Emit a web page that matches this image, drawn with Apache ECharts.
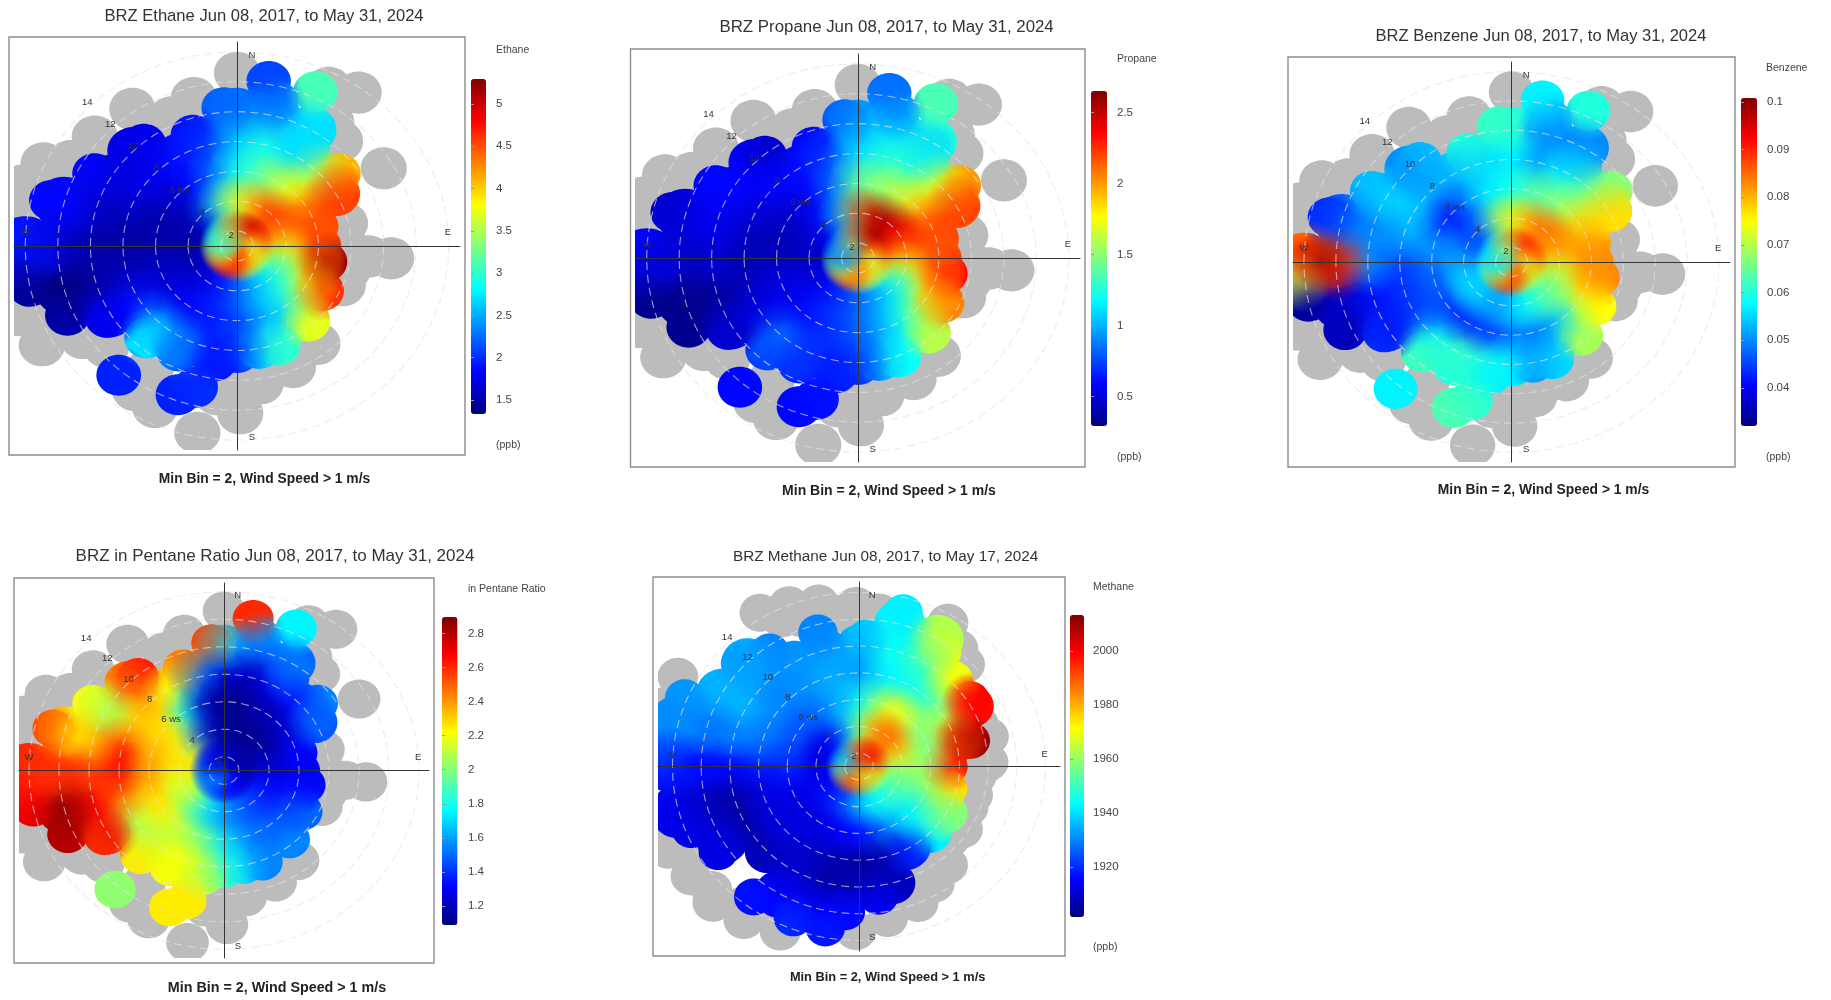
<!DOCTYPE html>
<html><head><meta charset="utf-8">
<script src="https://cdn.jsdelivr.net/npm/echarts@6/dist/echarts.min.js"></script>
<style>html,body{margin:0;background:#fff}#c{width:1831px;height:1000px}</style></head>
<body><div id="c"></div>
<script>
const _ = null;
const windDirs = [0,15,30,45,60,75,90,105,120,135,150,165,180,195,210,225,240,255,270,285,300,315,330,345];
const ringSpeeds = [2,4,6,8,10,12,14];
const ringTicks = [2,4,6,8,10,12,14];
const wsLabels = ['2','4','6 ws','8','10','12','14'];
const jetColors = ['#00007F','#0000FF','#007FFF','#00FFFF','#7FFF7F','#FFFF00','#FF7F00','#FF0000','#7F0000'];

const ethaneRings = [
[4.9,5.0,5.1,5.0,4.9,4.6,4.3,4.0,3.7,3.6,3.8,4.1,4.5,4.7,4.8,4.7,4.1,3.7,3.3,2.9,2.8,2.9,3.3,4.2],
[3.7,4.1,4.3,4.6,4.5,4.4,4.0,3.6,3.2,2.9,2.7,2.5,2.3,2.0,1.9,1.75,1.6,1.55,1.5,1.5,1.55,1.6,2.4,3.1],
[2.9,3.1,3.5,3.8,4.4,4.5,4.5,4.3,3.8,3.3,2.7,2.5,2.1,1.95,1.9,1.8,1.7,1.6,1.5,1.5,1.55,1.7,1.9,2.3],
[2.6,2.9,2.7,3.5,4.5,_,_,_,_,_,_,_,2.0,1.95,2.3,2.5,1.9,1.6,1.45,1.55,1.7,1.8,1.9,2.1],
[2.3,2.4,2.7,_,_,_,_,_,_,_,_,_,_,_,_,_,1.8,1.5,1.5,1.6,1.7,1.75,_,_],
[_,_,_,_,_,_,_,_,_,_,_,_,_,_,_,_,_,1.35,1.6,1.85,_,_,_,_],
[_,_,_,_,_,_,_,_,_,_,_,_,_,_,_,_,_,_,1.9,_,_,_,_,_]];
const propaneRings = [
[2.35,2.6,2.65,2.6,2.4,2.25,2.1,1.95,1.75,1.6,1.55,1.75,1.95,2.1,2.2,2.1,1.75,1.35,1.05,.9,.8,.85,1.15,1.95],
[2.15,2.5,2.6,2.5,2.35,2.2,2.05,1.75,1.4,1.2,1.05,.95,.85,.75,.7,.62,.55,.5,.45,.45,.5,.55,.7,1.2],
[1.4,1.5,1.6,1.85,2.15,2.2,2.15,2.0,1.85,1.55,1.2,1.0,.82,.72,.68,.62,.55,.52,.45,.42,.45,.52,.62,.88],
[1.1,1.25,1.3,1.7,2.15,_,_,_,_,_,_,_,.7,.66,.72,.85,.55,.45,.42,.45,.52,.6,.62,.78],
[1.0,1.1,1.25,_,_,_,_,_,_,_,_,_,_,_,_,_,.45,.38,.5,.55,.6,.58,_,_],
[_,_,_,_,_,_,_,_,_,_,_,_,_,_,_,_,_,.33,.45,.55,_,_,_,_],
[_,_,_,_,_,_,_,_,_,_,_,_,_,_,_,_,_,_,.6,_,_,_,_,_]];
const benzeneRings = [
[.09,.091,.091,.089,.087,.087,.085,.08,.075,.07,.072,.082,.088,.09,.088,.08,.07,.062,.058,.056,.055,.056,.06,.077],
[.074,.08,.083,.085,.083,.082,.08,.072,.067,.065,.062,.058,.056,.052,.05,.055,.055,.055,.052,.05,.047,.042,.052,.067],
[.059,.063,.065,.07,.078,.081,.083,.08,.076,.062,.053,.049,.05,.045,.045,.044,.046,.047,.048,.052,.045,.042,.052,.057],
[.057,.052,.058,.066,.078,_,_,_,_,_,_,_,.057,.06,.062,.057,.045,.044,.045,.052,.054,.052,.053,.055],
[.06,.05,.05,_,_,_,_,_,_,_,_,_,_,_,_,_,.04,.042,.05,.05,.055,.05,_,_],
[_,_,_,_,_,_,_,_,_,_,_,_,_,_,_,_,_,.037,.09,.048,_,_,_,_],
[_,_,_,_,_,_,_,_,_,_,_,_,_,_,_,_,_,_,.085,_,_,_,_,_]];
const pentaneRings = [
[1.2,1.2,1.18,1.15,1.15,1.15,1.15,1.2,1.2,1.25,1.3,1.3,1.32,1.35,1.4,1.5,1.55,1.55,1.55,1.5,1.4,1.35,1.25,1.2],
[1.12,1.12,1.12,1.12,1.15,1.18,1.25,1.3,1.33,1.4,1.45,1.5,1.55,1.65,1.75,2.0,2.1,2.15,2.2,2.3,2.25,2.1,1.5,1.2],
[1.12,1.12,1.18,1.2,1.25,1.32,1.3,1.3,1.4,1.45,1.5,1.55,1.7,1.95,2.05,2.15,2.25,2.3,2.4,2.35,2.3,2.25,1.75,1.2],
[1.25,1.2,1.3,1.35,1.5,_,_,_,_,_,_,_,1.85,2.15,2.2,2.1,2.1,2.45,2.65,2.6,2.3,2.35,2.2,1.55],
[1.7,1.45,1.5,_,_,_,_,_,_,_,_,_,_,_,_,_,2.7,2.65,2.55,2.35,2.05,2.45,_,_],
[_,_,_,_,_,_,_,_,_,_,_,_,_,_,_,_,_,2.85,2.6,2.25,_,_,_,_],
[_,_,_,_,_,_,_,_,_,_,_,_,_,_,_,_,_,_,2.6,_,_,_,_,_]];
const methaneRings = [
[1988,1995,2002,2003,2000,1990,1978,1970,1963,1962,1965,1977,1990,1996,1996,1987,1970,1958,1945,1935,1930,1932,1945,1970],
[1958,1975,1986,1992,1980,1968,1960,1955,1952,1950,1945,1942,1935,1925,1920,1917,1915,1913,1913,1915,1912,1915,1925,1945],
[1945,1960,1972,1965,1958,1958,1962,1960,1950,1942,1935,1925,1917,1915,1913,1912,1912,1915,1920,1922,1925,1925,1930,1935],
[1932,1942,1945,1950,1965,1988,_,_,1958,1942,1920,1907,1905,1908,1910,1912,1912,1912,1918,1928,1930,1930,1932,1935],
[1935,1945,1950,1970,1998,_,_,_,_,_,_,1908,1908,1905,1910,1908,1906,1906,1916,1930,1935,1931,1932,1932],
[_,1942,1963,_,_,_,_,_,_,_,_,_,_,1915,1915,_,1912,1908,1916,1928,1935,1935,_,_],
[_,_,_,_,_,_,_,_,_,_,_,_,_,_,_,_,_,1912,1918,1932,_,_,_,_]];

const edgeSpeeds = [12.2,12.4,10.3,9.9,8.9,12.8,11,13.7,14.3,14,12.4,10.3,9.3,8.9,8.8,12.3,11.6,10.8,8,7.65,7,6.5,8.9,8,9.6,8.9,11,8.1,12.9,1];
const edgeDirs   = [10,25,355,320,340,285,299,270,264,258,246,239,222,207,190,220,200,195,169,139,120,101,52,60,30,33,14,159,270,0];
const ethaneEdge  = [2.1,3.1,2.2,1.75,1.9,1.85,1.85,1.95,1.5,1.45,1.5,1.75,2.7,2.3,1.9,1.95,1.95,2.0,2.6,3.7,4.6,5.2,4.1,4.6,2.7,2.7,2.3,3.0,1.75,5.0];
const propaneEdge = [.85,1.35,.8,.45,.6,.45,.6,.55,.4,.33,.33,.5,.75,.7,.65,.6,.6,.62,.95,1.6,2.05,2.35,2.0,2.25,1.05,1.15,.9,1.2,.48,2.3];
const benzeneEdge = [.057,.06,.062,.054,.06,.042,.053,.093,.068,.034,.036,.045,.062,.06,.057,.057,.063,.061,.05,.069,.075,.083,.067,.076,.05,.054,.052,.055,.101,.095];
const pentaneEdge = [2.6,1.75,2.55,2.65,2.45,2.6,2.2,2.6,2.65,2.7,2.8,2.55,2.25,2.2,2.1,2.02,2.25,2.25,1.7,1.55,1.5,1.33,1.55,1.45,1.55,1.5,1.6,1.55,2.58,1.25];

const methaneEdgeSpeeds = [12.9,11.3,10.2,8.5,9,7.2,7.4,7.8,7.2,8.2,9.5,10.8,13.3,13.2,13.2,12.7,13.6,14.7,14.2,14.6,14.4,12.3,11.6,11.4,10.6,11.9,1];
const methaneEdgeDirs   = [15,34,57,73,76,90,105,123,136,152,167,172,191,202,217,237,248,256,293,285,275,313,324,344,3,185,0];
const methaneEdge       = [1942,1968,2000,2005,2010,1998,1975,1958,1945,1918,1908,1915,1918,1920,1917,1913,1913,1915,1932,1930,1925,1932,1930,1930,1938,1916,2000];

const grayBins = [[10.5,95],[9.1,95],[11.4,60],[7.8,77],[8.1,94],[13.7,36],[13,28],[10.45,42],[11.1,35],[12.6,0],[11.25,345],[10.5,335],[12.2,325],[12.4,310],[10.9,307],[12.7,299],[14.1,295],[14.8,287],[14.8,279],[14.7,241],[15.2,251],[14,247],[12.3,237],[11.5,230],[10.7,213],[12.5,213],[12.9,205],[13.75,191],[11,187],[9.6,180],[12.2,179],[10.3,171],[9.8,157],[8.9,152],[9.2,143],[8,112],[8,103]];
const methaneGrayBins = [[14.4,329],[13.3,334],[13.5,347],[13,359],[12.6,7],[13.4,30],[12.2,38],[11.6,44],[9.9,69],[10.3,76],[9.6,90],[9.2,95],[9.2,105],[9.2,112],[9.6,123],[9.9,146],[11.2,149],[12,158],[12.5,170],[13.3,181],[14.5,204],[15,215],[15.4,225],[15.3,235],[15.7,245],[15.3,298],[15.5,288],[15,282],[10,88],[14.8,228],[14.2,218],[14,240],[13.5,210],[14.8,252],[9,62],[8.9,100],[8.7,118],[9.3,130],[10.6,140],[14,338],[12.8,340],[12.5,352]];

const ethaneTicks = [1.5,2,2.5,3,3.5,4,4.5,5];
const propaneTicks = [0.5,1,1.5,2,2.5];
const benzeneTicks = [0.04,0.05,0.06,0.07,0.08,0.09,0.1];
const pentaneTicks = [1.2,1.4,1.6,1.8,2,2.2,2.4,2.6,2.8];
const methaneTicks = [1920,1940,1960,1980,2000];

const subtitle = 'Min Bin = 2, Wind Speed > 1 m/s';
const panels = [
 {title:'BRZ Ethane Jun 08, 2017, to May 31, 2024',tx:264,ty:17,tf:16.6,sx:264.5,sy:479,sf:13.85,box:[9,37,456,418],hx:14,hy:14,rings:ethaneRings,edgeV:ethaneEdge,es:edgeSpeeds,ed:edgeDirs,gray:grayBins,
  bar:[471,79,15,335],min:1.335,max:5.295,ticks:ethaneTicks,name:'Ethane',nx:496,ny:50,unit:'(ppb)',uy:445,lx:496},
 {title:'BRZ Propane Jun 08, 2017, to May 31, 2024',tx:886.6,ty:28,tf:16.85,sx:889,sy:491.5,sf:14,box:[630.5,49,454.5,418],hx:14,hy:14,rings:propaneRings,edgeV:propaneEdge,es:edgeSpeeds,ed:edgeDirs,gray:grayBins,
  bar:[1091,91,16,335],min:0.294,max:2.653,ticks:propaneTicks,name:'Propane',nx:1117,ny:59,unit:'(ppb)',uy:457,lx:1117},
 {title:'BRZ Benzene Jun 08, 2017, to May 31, 2024',tx:1541,ty:37,tf:16.55,sx:1543.5,sy:490.5,sf:13.85,box:[1288,57,447,410],hx:14,hy:14,rings:benzeneRings,edgeV:benzeneEdge,es:edgeSpeeds,ed:edgeDirs,gray:grayBins,
  bar:[1741,98,16,328],min:0.032,max:0.1008,ticks:benzeneTicks,name:'Benzene',nx:1766,ny:68,unit:'(ppb)',uy:457,lx:1767},
 {title:'BRZ in Pentane Ratio Jun 08, 2017, to May 31, 2024',tx:275,ty:557,tf:17,sx:277,sy:988.5,sf:14.3,box:[14,578,420,385],hx:14,hy:14,rings:pentaneRings,edgeV:pentaneEdge,es:edgeSpeeds,ed:edgeDirs,gray:grayBins,
  bar:[442,617,15.5,308],min:1.089,max:2.896,ticks:pentaneTicks,name:'in Pentane Ratio',nx:468,ny:589,unit:'',uy:0,lx:468},
 {title:'BRZ Methane Jun 08, 2017, to May 17, 2024',tx:885.6,ty:558,tf:15.3,sx:887.6,sy:977.5,sf:12.8,box:[653,577,412,379],hx:14.36,hy:14.16,rings:methaneRings,edgeV:methaneEdge,es:methaneEdgeSpeeds,ed:methaneEdgeDirs,gray:methaneGrayBins,
  bar:[1070,615,14,302],min:1901.5,max:2013.3,ticks:methaneTicks,name:'Methane',nx:1093,ny:587,unit:'(ppb)',uy:947,lx:1093}
];

const ringSize = {2:1,4:1.3,6:1.4,8:1.5,10:1.6,12:1.8,14:2};
const edgeSize = 1.37, graySize = 1.42, passes = 4, blendSpread = 1.5, blendAlpha = 0.5;
const rad = d => d*Math.PI/180;
const toXY = (ws,dir) => [(ws-1)*Math.sin(rad(dir)), (ws-1)*Math.cos(rad(dir))];
const gcd = (a,b) => b ? gcd(b,a%b) : a;

function binsOf(p){
  const out=[];
  p.rings.forEach((row,i)=>row.forEach((v,j)=>{ if(v!==null) out.push([ringSpeeds[i],windDirs[j],v,ringSize[ringSpeeds[i]]]); }));
  p.edgeV.forEach((v,k)=>out.push([p.es[k],p.ed[k],v,edgeSize]));
  return out;
}
function mixedOrder(bins){
  const n=bins.length, out=[];
  let stride=Math.round(n*0.382); while(gcd(stride,n)!==1) stride++;
  for(let k=0;k<passes;k++) for(let i=0;i<n;i++) out.push(bins[(i*stride+k*17)%n]);
  return out;
}
const ellipseAt=(api,r,style)=>{
  const c=api.coord(toXY(api.value(0),api.value(1))), s=api.size([1,1]);
  return {type:'ellipse',shape:{cx:c[0],cy:c[1],rx:s[0]*r,ry:s[1]*r},style};
};
const option={animation:false,backgroundColor:'transparent',title:[],grid:[],xAxis:[],yAxis:[],series:[],visualMap:[],graphic:[]};
panels.forEach((p,i)=>{
  const [bx,by,bw,bh]=p.box, inset=5;
  const gi=option.grid.length;
  option.grid.push({left:bx+inset,top:by+inset,width:bw-2*inset,height:bh-2*inset});
  const kx=p.hx*(bw-2*inset)/bw, ky=p.hy*(bh-2*inset)/bh;
  const plain={show:true,axisTick:{show:false},axisLabel:{show:false},splitLine:{show:false},axisLine:{onZero:true,lineStyle:{color:'#333',width:1}},z:6};
  option.xAxis.push({...plain,type:'value',gridIndex:gi,min:-kx,max:kx});
  option.yAxis.push({...plain,type:'value',gridIndex:gi,min:-ky,max:ky});
  const base={type:'custom',xAxisIndex:gi,yAxisIndex:gi,coordinateSystem:'cartesian2d',clip:true,silent:true,animation:false,progressive:0};
  const bins=binsOf(p);
  const s1=option.series.length;
  option.series.push({...base,name:p.name,z:2,data:bins,
    renderItem:(pr,api)=>ellipseAt(api,api.value(3),{fill:api.visual('color')})});
  const s2=option.series.length;
  option.series.push({...base,name:p.name+' blend',z:3,blendMode:'source-atop',data:mixedOrder(bins),
    renderItem:(pr,api)=>{const c=api.visual('color'),m=echarts.color.modifyAlpha;
      return ellipseAt(api,api.value(3)*blendSpread,{fill:new echarts.graphic.RadialGradient(0.5,0.5,0.5,[{offset:0,color:m(c,blendAlpha)},{offset:0.45,color:m(c,blendAlpha*0.5)},{offset:1,color:m(c,0)}])});}});
  option.series.push({...base,name:p.name+' no data',z:3.5,blendMode:'destination-over',data:p.gray,
    renderItem:(pr,api)=>ellipseAt(api,graySize,{fill:'#bcbcbc'})});
  option.series.push({...base,name:p.name+' rings',z:4,data:ringTicks.map(w=>[w]),
    renderItem:(pr,api)=>{const u=api.value(0)-1,c=api.coord([0,0]),s=api.size([1,1]);
      return {type:'ellipse',shape:{cx:c[0],cy:c[1],rx:s[0]*u,ry:s[1]*u},style:{fill:'none',stroke:'rgba(232,226,226,0.68)',lineWidth:1.1,lineDash:[8,5]}};}});
  const lab=[];
  ringTicks.forEach((w,k)=>{const u=w-1;lab.push([-u*0.707+(k===0?0.35:0),u*0.74,wsLabels[k]]);});
  [[0.92,12.75,'N'],[12.95,0.92,'E'],[0.92,-12.8,'S'],[-13,0.92,'W']].forEach(a=>lab.push(a));
  option.series.push({...base,name:p.name+' labels',z:7,data:lab.map((d,k)=>[d[0],d[1],k]),clip:false,
    renderItem:(pr,api)=>{const d=lab[api.value(2)],c=api.coord([d[0],d[1]]);
      return {type:'text',style:{x:c[0],y:c[1],text:String(d[2]),align:'center',verticalAlign:'middle',font:'9.5px "Liberation Sans"',fill:'#333'}};}});
  option.visualMap.push({type:'continuous',show:true,seriesIndex:[s1,s2],dimension:2,min:p.min,max:p.max,left:p.bar[0],top:p.bar[1],itemWidth:p.bar[2],itemHeight:p.bar[3],padding:0,calculable:false,hoverLink:false,inRange:{color:jetColors},text:null,textStyle:{fontSize:0}});
  const li=option.grid.length;
  option.grid.push({left:p.bar[0],top:p.bar[1],width:p.bar[2],height:p.bar[3]});
  option.xAxis.push({type:'value',gridIndex:li,show:false,min:0,max:1});
  option.yAxis.push({type:'value',gridIndex:li,position:'right',min:p.min,max:p.max,z:5,splitLine:{show:false},axisLine:{show:false},
    axisTick:{show:true,inside:false,length:3,lineStyle:{color:'#999'},customValues:p.ticks},
    axisLabel:{show:true,margin:p.lx-p.bar[0]-p.bar[2],color:'#444',fontSize:11.5,fontFamily:'Liberation Sans',customValues:p.ticks,formatter:v=>String(v),showMinLabel:true,showMaxLabel:true}});
  option.title.push({text:p.title,left:p.tx,top:p.ty-9,textAlign:'center',padding:0,textStyle:{fontFamily:'Liberation Sans',fontWeight:'normal',fontSize:p.tf,color:'#333'}});
  option.title.push({text:subtitle,left:p.sx,top:p.sy-7,textAlign:'center',padding:0,textStyle:{fontFamily:'Liberation Sans',fontWeight:'bold',fontSize:p.sf,color:'#222'}});
  option.graphic.push({type:'rect',silent:true,z:8,shape:{x:bx,y:by,width:bw,height:bh},style:{fill:'none',stroke:'#8c8c8c',lineWidth:1.4}});
  option.graphic.push({type:'text',silent:true,style:{x:p.nx,y:p.ny,text:p.name,verticalAlign:'middle',font:'10.5px "Liberation Sans"',fill:'#444'}});
  if(p.unit) option.graphic.push({type:'text',silent:true,style:{x:p.nx,y:p.uy,text:p.unit,verticalAlign:'middle',font:'10.5px "Liberation Sans"',fill:'#444'}});
});
const chart=echarts.init(document.getElementById('c'),null,{renderer:'canvas',width:1831,height:1000});
chart.setOption(option);
</script></body></html>
